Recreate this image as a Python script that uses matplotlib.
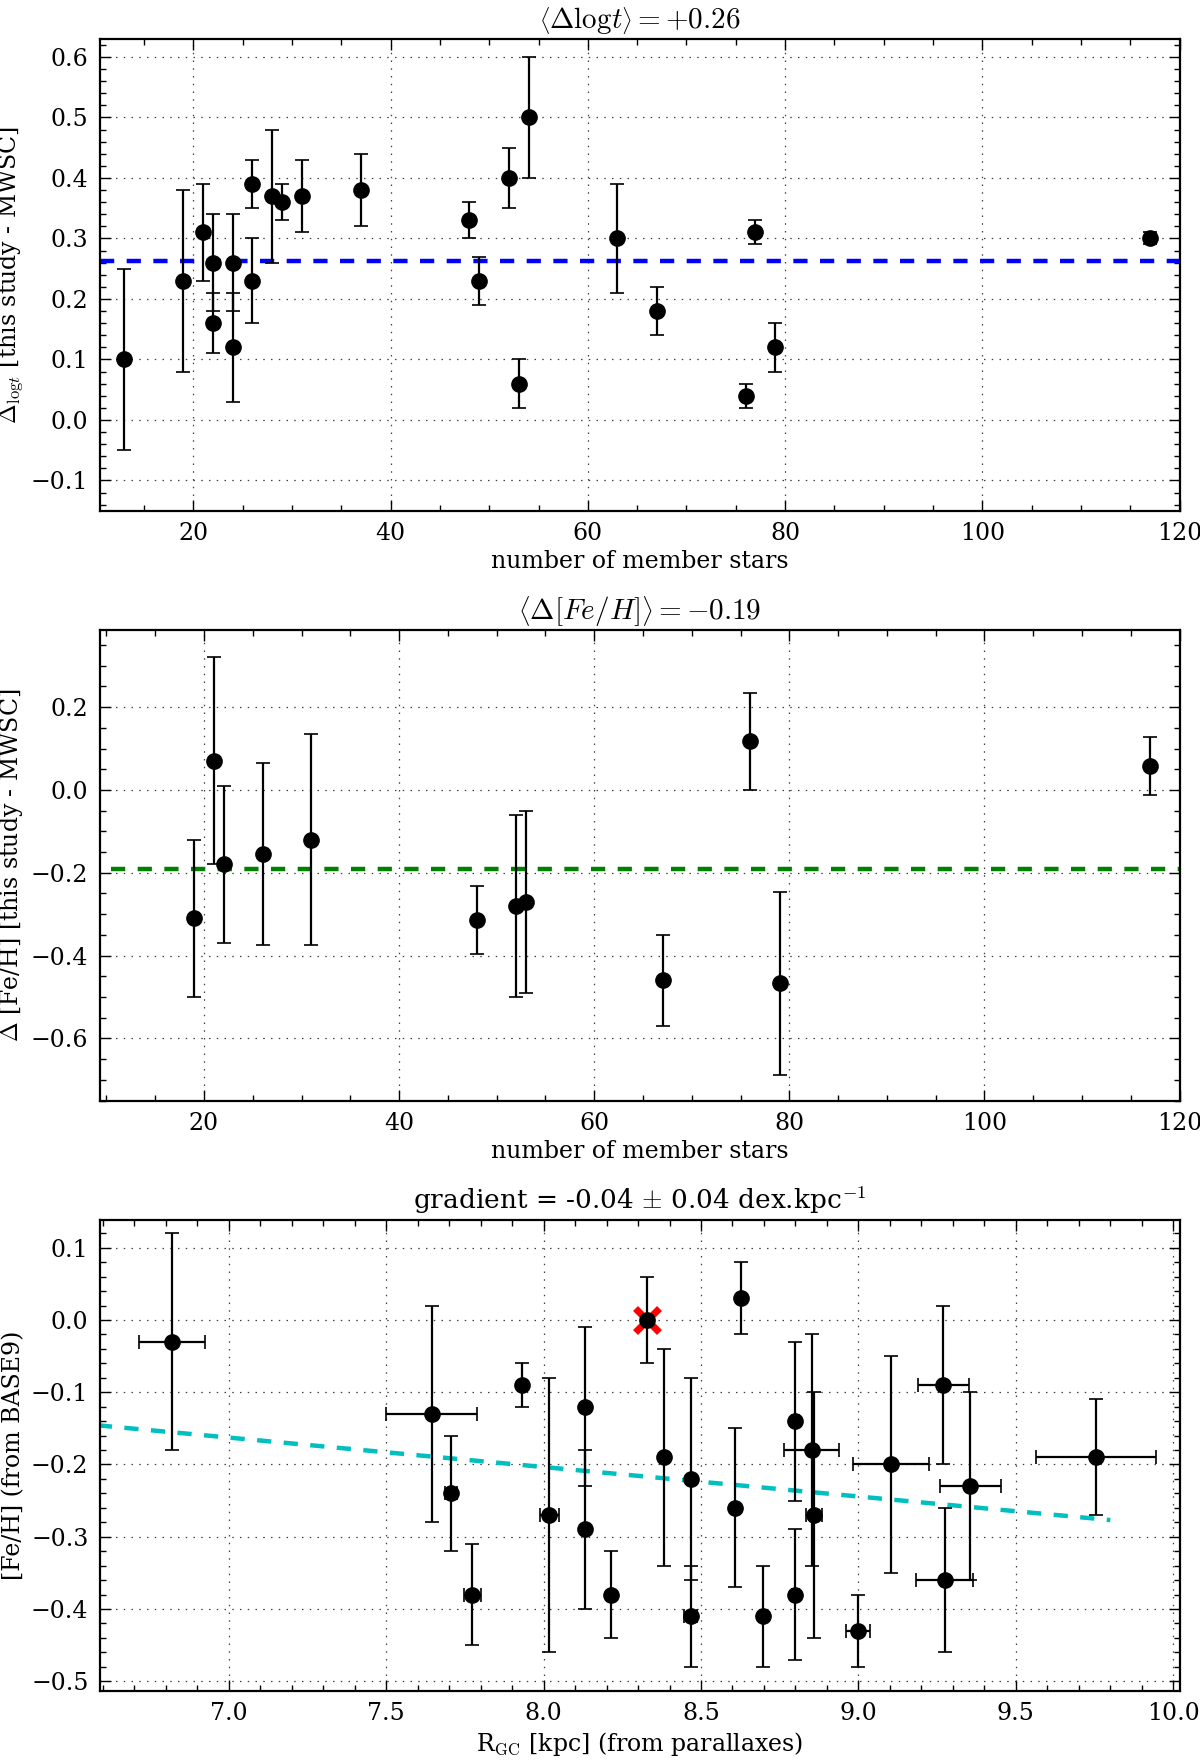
import numpy as np
import matplotlib
matplotlib.use("Agg")
import matplotlib.pyplot as plt
from matplotlib.ticker import AutoMinorLocator, MultipleLocator

plt.rcParams['font.family'] = ['DejaVu Serif']
plt.rcParams['mathtext.fontset'] = 'cm'

# panel 1: delta log(age) vs number of members
n_age = [13, 19, 21, 22, 22, 24, 24, 26, 26, 28, 29, 31, 37,
         48, 49, 52, 53, 54, 63, 67, 76, 77, 79, 117]
d_age = [0.10, 0.23, 0.31, 0.26, 0.16, 0.26, 0.12, 0.39, 0.23, 0.37, 0.36, 0.37, 0.38,
         0.33, 0.23, 0.40, 0.06, 0.50, 0.30, 0.18, 0.04, 0.31, 0.12, 0.30]
e_age = [0.15, 0.15, 0.08, 0.08, 0.05, 0.08, 0.09, 0.04, 0.07, 0.11, 0.03, 0.06, 0.06,
         0.03, 0.04, 0.05, 0.04, 0.10, 0.09, 0.04, 0.02, 0.02, 0.04, 0.01]
mean_age = 0.263

# panel 2: delta [Fe/H] vs number of members
n_feh = [19, 21, 22, 26, 31, 48, 52, 53, 67, 76, 79, 117]
d_feh = [-0.31, 0.07, -0.18, -0.155, -0.12, -0.315, -0.28, -0.27, -0.46, 0.117, -0.467, 0.058]
e_feh = [0.19, 0.25, 0.19, 0.22, 0.255, 0.082, 0.22, 0.22, 0.11, 0.118, 0.22, 0.07]
mean_feh = -0.192

# panel 3: [Fe/H] vs galactocentric radius
rgc = [6.82, 7.645, 7.706, 7.774, 7.933, 8.018, 8.131, 8.131, 8.215, 8.33, 8.384, 8.467,
       8.467, 8.607, 8.628, 8.698, 8.80, 8.80, 8.852, 8.86, 9.0, 9.103, 9.27, 9.274,
       9.355, 9.754]
rgc_err = [0.105, 0.145, 0.02, 0.027, 0.0, 0.03, 0.0, 0.0, 0.0, 0.0, 0.0, 0.0,
           0.02, 0.0, 0.0, 0.0, 0.01, 0.01, 0.087, 0.025, 0.038, 0.12, 0.082, 0.09,
           0.097, 0.19]
feh = [-0.03, -0.13, -0.24, -0.38, -0.09, -0.27, -0.12, -0.29, -0.38, 0.0, -0.19, -0.22,
       -0.41, -0.26, 0.03, -0.41, -0.14, -0.38, -0.18, -0.27, -0.43, -0.20, -0.09, -0.36,
       -0.23, -0.19]
feh_err = [0.15, 0.15, 0.08, 0.07, 0.03, 0.19, 0.11, 0.11, 0.06, 0.06, 0.15, 0.14,
           0.07, 0.11, 0.05, 0.07, 0.11, 0.09, 0.16, 0.17, 0.05, 0.15, 0.11, 0.10,
           0.13, 0.08]
highlight = (8.33, 0.0)
grad_slope = -0.0408
grad_icpt = 0.1229
fit_range = (6.5, 9.8)


def style_axes(ax):
    ax.xaxis.set_minor_locator(AutoMinorLocator())
    ax.yaxis.set_minor_locator(AutoMinorLocator())
    ax.tick_params(which='both', direction='in', top=True, right=True, labelsize=17, pad=8)
    ax.tick_params(which='major', length=8, width=1)
    ax.tick_params(which='minor', length=4, width=1)
    ax.grid(True, which='major', color='0.25', linestyle=(0, (1.2, 5)), linewidth=0.9)
    for s in ax.spines.values():
        s.set_linewidth(1.6)


ebar = dict(fmt='o', color='k', ms=11, elinewidth=1.6, capsize=5, capthick=1.2, zorder=3)

fig = plt.figure(figsize=(12, 17.61), dpi=100)

# --- panel 1
ax1 = fig.add_axes([0.083, 0.710, 0.900, 0.268])
ax1.errorbar(n_age, d_age, yerr=e_age, **ebar)
ax1.axhline(mean_age, color='b', lw=3.2, dashes=(3.2, 2.8))
ax1.set_xlim(10.5, 120)
ax1.set_ylim(-0.15, 0.63)
ax1.yaxis.set_major_locator(MultipleLocator(0.1))
style_axes(ax1)
ax1.set_title(r'$\left\langle\Delta \mathrm{log}t\right\rangle = +0.26$', fontsize=21, pad=8)
ax1.set_xlabel('number of member stars', fontsize=17)
ax1.set_ylabel(r'$\Delta_{\mathrm{log}t}$ [this study - MWSC]', fontsize=17)

# --- panel 2
ax2 = fig.add_axes([0.083, 0.375, 0.900, 0.267])
ax2.errorbar(n_feh, d_feh, yerr=e_feh, **ebar)
ax2.plot([10.5, 120], [mean_feh, mean_feh], color='g', lw=3.2, dashes=(3.2, 2.8))
ax2.set_xlim(9.3, 120)
ax2.set_ylim(-0.75, 0.385)
style_axes(ax2)
ax2.set_title(r'$\left\langle\Delta [Fe/H]\right\rangle = -0.19$', fontsize=21, pad=8)
ax2.set_xlabel('number of member stars', fontsize=17)
ax2.set_ylabel(r'$\Delta$ [Fe/H] [this study - MWSC]', fontsize=17)

# --- panel 3
ax3 = fig.add_axes([0.083, 0.040, 0.900, 0.267])
ax3.plot(highlight[0], highlight[1], 'x', color='r', ms=17, mew=5, zorder=2)
ax3.errorbar(rgc, feh, xerr=rgc_err, yerr=feh_err, **ebar)
xf = np.array(fit_range)
ax3.plot(xf, grad_icpt + grad_slope * xf, color='c', lw=3.2, dashes=(3.2, 2.8))
ax3.set_xlim(6.59, 10.02)
ax3.set_ylim(-0.513, 0.138)
ax3.xaxis.set_major_locator(MultipleLocator(0.5))
ax3.yaxis.set_major_locator(MultipleLocator(0.1))
style_axes(ax3)
ax3.set_title(r'gradient = -0.04 $\pm$ 0.04 dex.kpc$^{-1}$', fontsize=19, pad=8)
ax3.set_xlabel(r'R$_{\mathrm{GC}}$ [kpc] (from parallaxes)', fontsize=17)
ax3.set_ylabel('[Fe/H] (from BASE9)', fontsize=17)

fig.savefig('out.png', dpi=100)
